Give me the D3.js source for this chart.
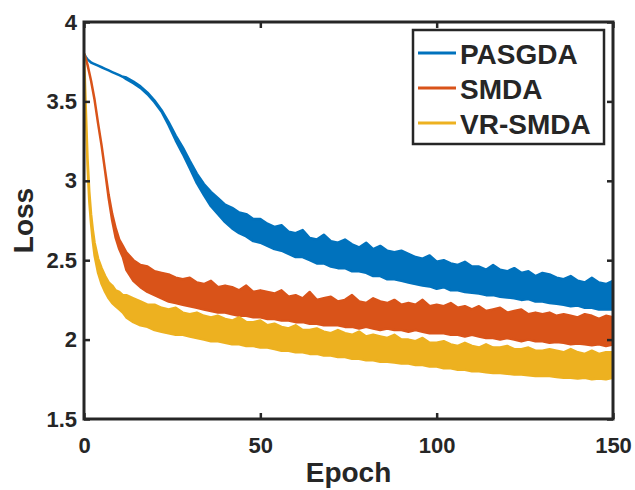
<!DOCTYPE html>
<html>
<head>
<meta charset="utf-8">
<script src="https://cdn.jsdelivr.net/npm/d3@7"></script>
<style>
  body { margin: 0; background: #fff; }
  svg text { font-family: "Liberation Sans", Arial, Helvetica, sans-serif; font-weight: bold; fill: #262626; }
</style>
</head>
<body>
<script>
const epochs = [0,0.5,1,1.5,2,2.5,3,4,5,6,7,8,9,10,11,
  12,14,16,18,20,22,24,26,28,30,32,34,36,38,40,42,44,46,48,50,
  52,54,56,58,60,62,64,66,68,70,72,74,76,78,80,82,84,86,88,90,
  92,94,96,98,100,102,104,106,108,110,112,114,116,118,120,122,124,126,128,130,
  132,134,136,138,140,142,144,146,148,150];

// upper / lower edge of each noisy loss curve
const pasgdaHi = [3.80,3.78,3.765,3.755,3.745,3.74,3.735,3.725,3.715,3.705,3.695,3.685,3.675,3.665,3.655,
  3.65,3.625,3.595,3.555,3.505,3.445,3.37,3.285,3.21,3.125,3.045,2.98,2.93,2.89,2.85,2.83,2.80,2.79,2.76,2.76,
  2.73,2.71,2.72,2.68,2.67,2.69,2.64,2.63,2.66,2.62,2.61,2.63,2.60,2.58,2.61,2.57,2.59,2.56,2.55,2.56,
  2.54,2.52,2.51,2.53,2.49,2.50,2.48,2.47,2.49,2.46,2.46,2.44,2.47,2.44,2.43,2.45,2.42,2.43,2.40,2.42,
  2.41,2.39,2.38,2.40,2.37,2.36,2.39,2.36,2.35,2.37];
const pasgdaLo = [3.80,3.78,3.765,3.755,3.745,3.74,3.735,3.725,3.715,3.705,3.695,3.685,3.675,3.665,3.655,
  3.64,3.615,3.585,3.545,3.495,3.435,3.35,3.255,3.17,3.08,2.985,2.91,2.84,2.79,2.74,2.70,2.67,2.65,2.62,2.61,
  2.59,2.57,2.56,2.54,2.52,2.52,2.50,2.48,2.48,2.46,2.45,2.45,2.43,2.43,2.42,2.40,2.40,2.38,2.38,2.37,
  2.36,2.35,2.34,2.335,2.32,2.33,2.31,2.31,2.30,2.295,2.29,2.28,2.28,2.27,2.265,2.26,2.25,2.255,2.24,2.24,
  2.23,2.225,2.22,2.21,2.215,2.20,2.20,2.19,2.19,2.19];

const smdaHi = [3.80,3.77,3.73,3.68,3.63,3.57,3.51,3.36,3.22,3.06,2.91,2.79,2.70,2.63,2.59,
  2.55,2.50,2.47,2.46,2.43,2.42,2.41,2.39,2.38,2.39,2.36,2.35,2.37,2.33,2.34,2.33,2.31,2.34,2.30,2.31,
  2.30,2.29,2.31,2.27,2.28,2.26,2.30,2.25,2.26,2.27,2.24,2.25,2.28,2.24,2.23,2.26,2.24,2.23,2.25,2.22,
  2.23,2.22,2.25,2.21,2.22,2.21,2.23,2.20,2.21,2.19,2.21,2.18,2.19,2.20,2.17,2.18,2.19,2.16,2.17,2.16,
  2.17,2.15,2.16,2.15,2.14,2.16,2.15,2.13,2.15,2.14];
const smdaLo = [3.80,3.77,3.73,3.68,3.63,3.57,3.51,3.36,3.22,3.06,2.89,2.75,2.64,2.57,2.52,
  2.44,2.37,2.33,2.30,2.28,2.26,2.24,2.23,2.22,2.21,2.20,2.19,2.18,2.17,2.17,2.16,2.15,2.15,2.14,2.14,
  2.13,2.13,2.12,2.12,2.11,2.11,2.10,2.10,2.09,2.09,2.09,2.08,2.08,2.07,2.08,2.07,2.06,2.07,2.06,2.06,
  2.05,2.06,2.05,2.04,2.04,2.04,2.03,2.03,2.02,2.03,2.02,2.01,2.01,2.00,2.01,2.00,1.99,2.00,1.99,1.99,
  1.98,1.985,1.98,1.97,1.975,1.97,1.965,1.97,1.96,1.97];

const vrsmdaHi = [3.80,3.46,3.14,2.93,2.79,2.69,2.61,2.51,2.45,2.40,2.36,2.34,2.31,2.30,2.28,
  2.28,2.26,2.24,2.22,2.22,2.20,2.19,2.20,2.17,2.16,2.17,2.15,2.14,2.15,2.13,2.12,2.14,2.11,2.11,2.12,
  2.09,2.10,2.08,2.07,2.09,2.06,2.06,2.07,2.05,2.04,2.06,2.04,2.03,2.05,2.02,2.03,2.02,2.01,2.03,2.00,
  2.00,1.99,2.01,1.98,1.98,1.99,1.97,1.96,1.98,1.96,1.95,1.97,1.95,1.95,1.96,1.94,1.94,1.95,1.93,1.93,
  1.94,1.93,1.92,1.94,1.92,1.91,1.93,1.91,1.92,1.92];
const vrsmdaLo = [3.80,3.44,3.10,2.87,2.73,2.62,2.53,2.42,2.35,2.30,2.26,2.23,2.21,2.19,2.17,
  2.14,2.11,2.09,2.08,2.06,2.05,2.04,2.03,2.03,2.02,2.01,2.00,1.99,1.99,1.98,1.97,1.97,1.96,1.96,1.95,
  1.95,1.94,1.93,1.93,1.92,1.92,1.91,1.91,1.90,1.90,1.89,1.89,1.88,1.88,1.87,1.87,1.86,1.86,1.855,1.85,
  1.85,1.84,1.84,1.83,1.83,1.82,1.82,1.81,1.81,1.80,1.80,1.795,1.79,1.79,1.785,1.78,1.78,1.775,1.77,1.77,
  1.77,1.765,1.76,1.76,1.755,1.76,1.75,1.755,1.75,1.76];

const seriesNames = ["PASGDA", "SMDA", "VR-SMDA"];
const seriesColors = ["#0072BD", "#D95319", "#EDB120"];
const xTicks = [0, 50, 100, 150];
const yTicks = [1.5, 2, 2.5, 3, 3.5, 4];

const w = 635, h = 490;
const padL = 84, padR = 613, padT = 22, padB = 419;

const svg = d3.select("body").append("svg")
  .attr("width", w).attr("height", h);

const x = d3.scaleLinear().domain([0, 150]).range([padL, padR]);
const y = d3.scaleLinear().domain([1.5, 4]).range([padB, padT]);

svg.append("clipPath").attr("id", "plot")
  .append("rect").attr("x", padL).attr("y", padT)
  .attr("width", padR - padL).attr("height", padB - padT);

// build band tables from the arrays
const bands = [[pasgdaHi, pasgdaLo], [smdaHi, smdaLo], [vrsmdaHi, vrsmdaLo]]
  .map(([hi, lo]) => epochs.map((e, i) => ({ e, hi: hi[i], lo: lo[i] })));

const area = d3.area()
  .x(d => x(d.e))
  .y0(d => y(d.lo))
  .y1(d => y(d.hi));

const g = svg.append("g").attr("clip-path", "url(#plot)");
bands.forEach((b, i) => {
  g.append("path")
    .datum(b)
    .attr("d", area)
    .attr("fill", seriesColors[i])
    .attr("stroke", seriesColors[i])
    .attr("stroke-width", 2.5)
    .attr("stroke-linejoin", "round");
});

// axes, ticks pointing inward on all four sides
const axisColor = "#262626";
const xAxis = svg.append("g")
  .attr("transform", "translate(0," + padB + ")")
  .call(d3.axisBottom(x).tickValues(xTicks).tickSize(-6).tickSizeOuter(0).tickPadding(18));
const yAxis = svg.append("g")
  .attr("transform", "translate(" + padL + ",0)")
  .call(d3.axisLeft(y).tickValues(yTicks).tickFormat(d3.format("")).tickSize(-6).tickSizeOuter(0).tickPadding(7));
const xTop = svg.append("g")
  .attr("transform", "translate(0," + padT + ")")
  .call(d3.axisTop(x).tickValues(xTicks).tickSize(-6).tickSizeOuter(0).tickFormat(""));
const yRight = svg.append("g")
  .attr("transform", "translate(" + padR + ",0)")
  .call(d3.axisRight(y).tickValues(yTicks).tickSize(-6).tickSizeOuter(0).tickFormat(""));

[xAxis, yAxis, xTop, yRight].forEach(a => {
  a.select(".domain").remove();
  a.selectAll("line").attr("stroke", axisColor).attr("stroke-width", 2.5);
  a.selectAll("text").attr("font-size", 22).attr("fill", axisColor)
    .style("font-family", "'Liberation Sans', Arial, sans-serif").style("font-weight", "bold");
});

svg.append("rect")
  .attr("x", padL).attr("y", padT)
  .attr("width", padR - padL).attr("height", padB - padT)
  .attr("fill", "none").attr("stroke", axisColor).attr("stroke-width", 3);

// axis labels
svg.append("text")
  .attr("x", (padL + padR) / 2).attr("y", 482)
  .attr("text-anchor", "middle").attr("font-size", 28)
  .text("Epoch");
svg.append("text")
  .attr("transform", "translate(33," + ((padT + padB) / 2) + ") rotate(-90)")
  .attr("text-anchor", "middle").attr("font-size", 28)
  .text("Loss");

// legend
const leg = svg.append("g");
leg.append("rect")
  .attr("x", 413).attr("y", 30).attr("width", 191).attr("height", 114)
  .attr("fill", "#fff").attr("stroke", axisColor).attr("stroke-width", 2.5);
seriesNames.forEach((name, i) => {
  const cy = 53 + i * 35;
  leg.append("line")
    .attr("x1", 418).attr("x2", 456).attr("y1", cy).attr("y2", cy)
    .attr("stroke", seriesColors[i]).attr("stroke-width", 3);
  leg.append("text")
    .attr("x", 460).attr("y", cy + 11)
    .attr("font-size", 28)
    .text(name);
});
</script>
</body>
</html>
